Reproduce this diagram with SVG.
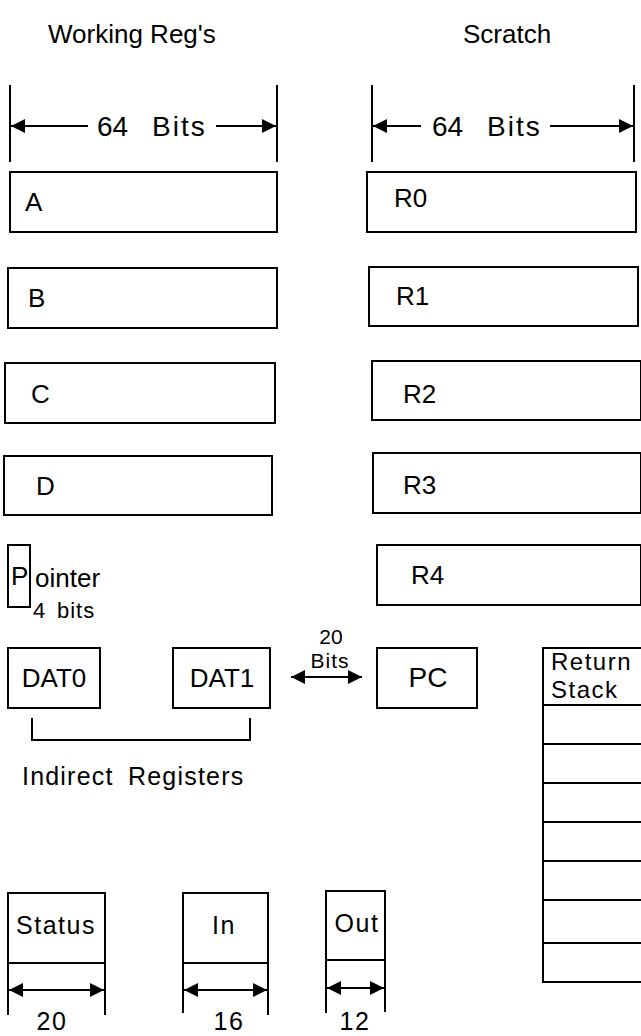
<svg xmlns="http://www.w3.org/2000/svg" width="641" height="1036" viewBox="0 0 641 1036">
<style>
.b{fill:none;stroke:#000;stroke-width:2}
.l{fill:none;stroke:#000;stroke-width:2}
.t{font-family:"Liberation Sans",Arial,sans-serif;fill:#000}
.big{font-size:26px}
.dim{font-size:28px}
.mid{font-size:25px;letter-spacing:1.5px}
</style>
<defs>
<marker id="ah" viewBox="0 0 10 10" refX="10" refY="5" markerWidth="18" markerHeight="14" markerUnits="userSpaceOnUse" orient="auto-start-reverse">
<path d="M0,0 L10,5 L0,10 Z" fill="#000"/>
</marker>
</defs>
<g id="titles">
<text class="t big" x="48" y="43">Working Reg's</text>
<text class="t big" x="463" y="43">Scratch</text>
</g>
<g id="connectors">
<line class="l" x1="10" y1="85" x2="10" y2="162"/>
<line class="l" x1="277" y1="85" x2="277" y2="162"/>
<line class="l" x1="88" y1="126" x2="11" y2="126" marker-end="url(#ah)"/>
<line class="l" x1="216" y1="126" x2="276" y2="126" marker-end="url(#ah)"/>
<line class="l" x1="372" y1="85" x2="372" y2="162"/>
<line class="l" x1="634" y1="85" x2="634" y2="162"/>
<line class="l" x1="421" y1="126" x2="373" y2="126" marker-end="url(#ah)"/>
<line class="l" x1="550" y1="126" x2="633" y2="126" marker-end="url(#ah)"/>
<line class="l" x1="291" y1="677" x2="362" y2="677" marker-start="url(#ah)" marker-end="url(#ah)"/>
<path class="l" d="M32,718 V740 H250 V718"/>
<line class="l" x1="8" y1="963" x2="8" y2="1015"/>
<line class="l" x1="105" y1="963" x2="105" y2="1015"/>
<line class="l" x1="9" y1="990" x2="104" y2="990" marker-start="url(#ah)" marker-end="url(#ah)"/>
<line class="l" x1="183" y1="963" x2="183" y2="1013"/>
<line class="l" x1="268" y1="963" x2="268" y2="1015"/>
<line class="l" x1="184" y1="990" x2="267" y2="990" marker-start="url(#ah)" marker-end="url(#ah)"/>
<line class="l" x1="326" y1="960" x2="326" y2="1013"/>
<line class="l" x1="385" y1="960" x2="385" y2="1012"/>
<line class="l" x1="327" y1="988" x2="384" y2="988" marker-start="url(#ah)" marker-end="url(#ah)"/>
</g>
<g id="dimlabels">
<text class="t dim" x="97" y="136"><tspan>64</tspan><tspan x="152" letter-spacing="2">Bits</tspan></text>
<text class="t dim" x="432" y="136"><tspan>64</tspan><tspan x="487" letter-spacing="2">Bits</tspan></text>
<text class="t" font-size="21" x="331" y="644" text-anchor="middle">20</text>
<text class="t" font-size="21" x="330" y="668" text-anchor="middle" letter-spacing="1">Bits</text>
<text class="t" font-size="25" letter-spacing="1.2" x="22" y="785"><tspan>Indirect</tspan><tspan x="128">Registers</tspan></text>
<text class="t mid" x="52" y="1030" text-anchor="middle">20</text>
<text class="t mid" x="229" y="1030" text-anchor="middle">16</text>
<text class="t mid" x="355" y="1030" text-anchor="middle">12</text>
</g>
<g id="A"><rect class="b" x="10" y="172" width="267" height="60"/><text class="t big" x="25" y="211">A</text></g>
<g id="B"><rect class="b" x="8" y="268" width="269" height="60"/><text class="t big" x="28" y="307">B</text></g>
<g id="C"><rect class="b" x="5" y="363" width="270" height="60"/><text class="t big" x="31" y="403">C</text></g>
<g id="D"><rect class="b" x="4" y="456" width="268" height="59"/><text class="t big" x="36" y="495">D</text></g>
<g id="R0"><rect class="b" x="367" y="172" width="269" height="60"/><text class="t big" x="394" y="207">R0</text></g>
<g id="R1"><rect class="b" x="369" y="267" width="269" height="59"/><text class="t big" x="396" y="305">R1</text></g>
<g id="R2"><rect class="b" x="372" y="361" width="269" height="59"/><text class="t big" x="403" y="403">R2</text></g>
<g id="R3"><rect class="b" x="373" y="453" width="268" height="60"/><text class="t big" x="403" y="494">R3</text></g>
<g id="R4"><rect class="b" x="377" y="545" width="264" height="60"/><text class="t big" x="411" y="584">R4</text></g>
<g id="P"><rect class="b" x="8" y="545" width="22" height="62"/><text class="t big" x="11" y="585">P</text><text class="t big" x="35" y="587">ointer</text><text class="t" font-size="22" letter-spacing="1" x="33" y="618"><tspan>4</tspan><tspan x="57">bits</tspan></text></g>
<g id="DAT0"><rect class="b" x="8" y="648" width="92" height="60"/><text class="t big" x="54" y="687" text-anchor="middle">DAT0</text></g>
<g id="DAT1"><rect class="b" x="173" y="648" width="97" height="60"/><text class="t big" x="222" y="687" text-anchor="middle">DAT1</text></g>
<g id="PC"><rect class="b" x="377" y="648" width="100" height="60"/><text class="t dim" x="428" y="687" text-anchor="middle">PC</text></g>
<g id="ReturnStack">
<path class="b" d="M641,648 H543 V982 H641"/>
<path class="l" d="M543,705 H641 M543,744 H641 M543,783 H641 M543,822 H641 M543,861 H641 M543,900 H641 M543,943 H641"/>
<text class="t" font-size="24" letter-spacing="1.5" x="551" y="670">Return</text>
<text class="t" font-size="24" letter-spacing="1.5" x="551" y="698">Stack</text>
</g>
<g id="Status"><path class="b" d="M8,963 V893 H105 V963 H8"/><text class="t mid" x="56" y="934" text-anchor="middle">Status</text></g>
<g id="In"><path class="b" d="M183,963 V893 H268 V963 H183"/><text class="t mid" x="224" y="934" text-anchor="middle">In</text></g>
<g id="Out"><path class="b" d="M326,960 V891 H385 V960 H326"/><text class="t mid" x="357" y="932" text-anchor="middle">Out</text></g>
</svg>
